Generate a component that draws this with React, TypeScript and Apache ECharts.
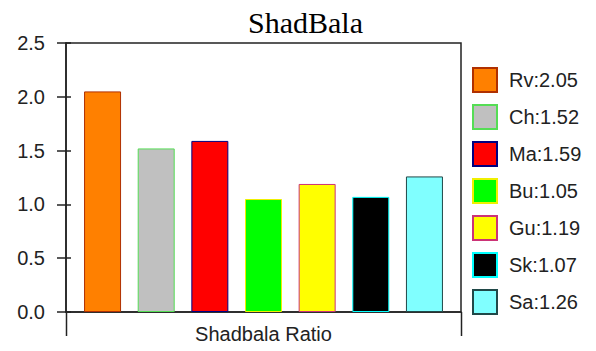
import React, { useEffect, useRef } from "react";
import * as echarts from "echarts";

const categories = ["Shadbala Ratio"];
const planetNames = ["Rv", "Ch", "Ma", "Bu", "Gu", "Sk", "Sa"];
const planetValues = [2.05, 1.52, 1.59, 1.05, 1.19, 1.07, 1.26];
const fillColors = ["#FF8000", "#C0C0C0", "#FF0000", "#00FF00", "#FFFF00", "#000000", "#80FFFF"];
const borderColors = ["#B03000", "#55DD55", "#000080", "#F0F000", "#CC3377", "#00FFFF", "#204848"];
const yTicks = { min: 0, max: 2.5, interval: 0.5 };

const SANS = "Liberation Sans";
const TEXT = "#222222";

export default function App() {
  const ref = useRef<HTMLDivElement>(null);

  useEffect(() => {
    if (!ref.current) return;
    const chart = echarts.init(ref.current, undefined, { renderer: "svg" });

    const series = planetNames.map((n, i) => ({
      type: "bar",
      name: `${n}:${planetValues[i].toFixed(2)}`,
      data: [planetValues[i]],
      barWidth: 37,
      barGap: "45%",
      yAxisIndex: 0,
      itemStyle: { color: fillColors[i], borderColor: borderColors[i], borderWidth: 1 },
    }));

    const gridLeft = 66;
    const gridTop = 43;
    const gridW = 395;
    const gridH = 269;
    const axisColor = "#222222";

    chart.setOption({
      animation: false,
      backgroundColor: "#ffffff",
      title: {
        text: "ShadBala",
        left: 243,
        top: 2,
        textStyle: { fontFamily: "Liberation Serif", fontSize: 30, fontWeight: "normal", color: "#000" },
      },
      legend: {
        orient: "vertical",
        left: 472,
        top: 67,
        padding: 0,
        itemWidth: 24,
        itemHeight: 24,
        itemGap: 11,
        icon: "rect",
        textStyle: { fontFamily: SANS, fontSize: 20, color: TEXT, padding: [0, 0, 0, 7] },
      },
      grid: {
        left: gridLeft,
        top: gridTop,
        width: gridW,
        height: gridH,
        show: true,
        borderColor: axisColor,
        borderWidth: 1.5,
        backgroundColor: "transparent",
      },
      xAxis: {
        type: "category",
        data: categories,
        axisLine: { show: true, lineStyle: { color: axisColor, width: 1.5 } },
        axisTick: { show: false },
        axisLabel: { margin: 12, fontFamily: SANS, fontSize: 20, color: TEXT },
      },
      yAxis: [
        {
          type: "value",
          min: yTicks.min,
          max: yTicks.max,
          interval: yTicks.interval,
          axisLine: { show: true, lineStyle: { color: axisColor, width: 1.5 } },
          axisTick: { show: true, length: 9, lineStyle: { color: axisColor, width: 1.5 } },
          splitLine: { show: false },
          axisLabel: {
            margin: 21,
            fontFamily: SANS,
            fontSize: 20,
            color: TEXT,
            formatter: (v: number) => v.toFixed(1),
          },
        },
        {
          type: "value",
          position: "left",
          min: yTicks.min,
          max: yTicks.max,
          interval: yTicks.interval,
          axisLine: { show: false },
          axisTick: { show: true, inside: true, length: 5, lineStyle: { color: axisColor, width: 1.5 } },
          splitLine: { show: false },
          axisLabel: { show: false },
        },
      ],
      graphic: [
        {
          type: "line",
          shape: { x1: gridLeft + 0.5, y1: gridTop + gridH, x2: gridLeft + 0.5, y2: gridTop + gridH + 24 },
          style: { stroke: axisColor, lineWidth: 1.5 },
        },
        {
          type: "line",
          shape: { x1: gridLeft + gridW + 0.5, y1: gridTop + gridH, x2: gridLeft + gridW + 0.5, y2: gridTop + gridH + 24 },
          style: { stroke: axisColor, lineWidth: 1.5 },
        },
      ],
      series,
    });

    return () => chart.dispose();
  }, []);

  return (
    <div
      ref={ref}
      style={{ position: "fixed", left: 0, top: 0, width: 596, height: 351, background: "#fff" }}
    />
  );
}
